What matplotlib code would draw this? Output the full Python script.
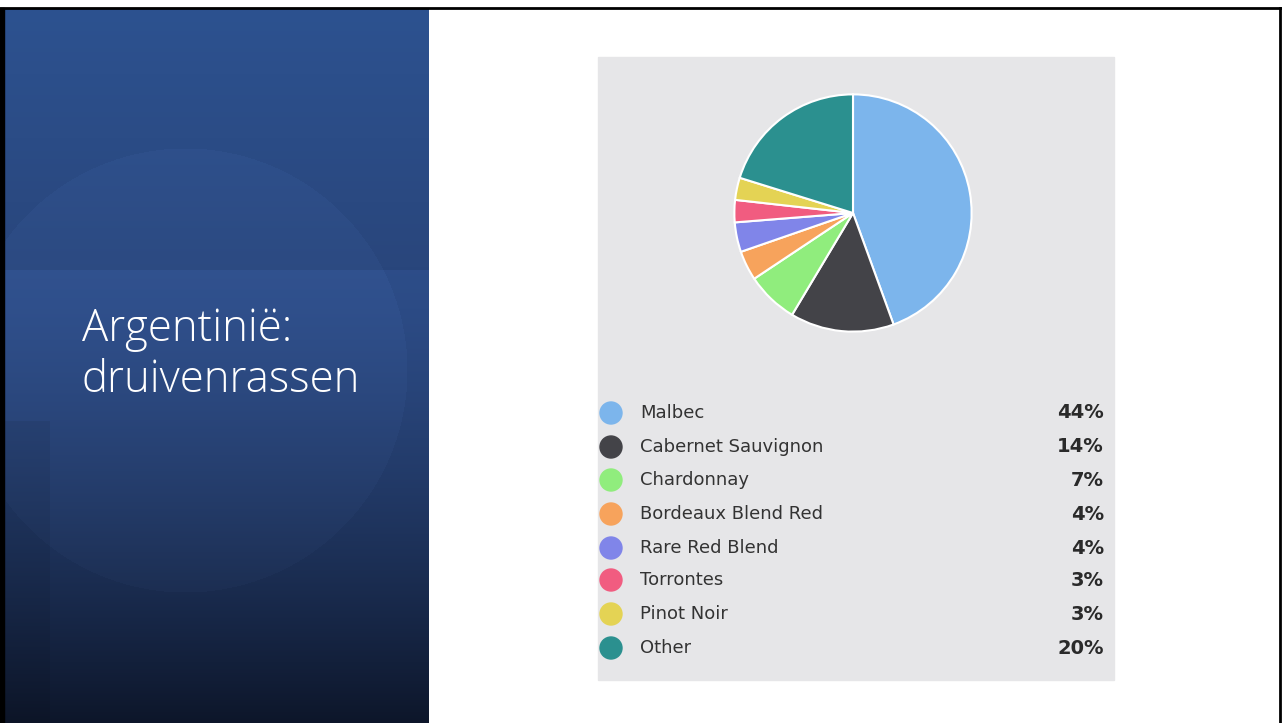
import numpy as np
import matplotlib.pyplot as plt
from matplotlib.patches import Rectangle, Circle

# data
grapes = ["Malbec", "Cabernet Sauvignon", "Chardonnay", "Bordeaux Blend Red",
          "Rare Red Blend", "Torrontes", "Pinot Noir", "Other"]
shares = [44, 14, 7, 4, 4, 3, 3, 20]
colors = ["#7cb5ec", "#434348", "#90ed7d", "#f7a35c",
          "#8085e9", "#f15c80", "#e4d354", "#2b908f"]

W, H = 1282, 723
fig = plt.figure(figsize=(W / 100, H / 100), dpi=100)
fig.patch.set_facecolor("white")

bg = fig.add_axes([0, 0, 1, 1])
bg.set_xlim(0, W)
bg.set_ylim(H, 0)
bg.axis("off")

# left panel: blue gradient with a soft circle and a lighter band
px0, px1, py0 = 4, 429, 9
ph, pw = H - py0, px1 - px0
yy, xx = np.mgrid[0:ph, 0:pw]
t = yy / ph
top = np.array([0x2d, 0x52, 0x90]) / 255
mid = np.array([0x29, 0x46, 0x7c]) / 255
bot = np.array([0x0c, 0x14, 0x26]) / 255
img = np.zeros((ph, pw, 3))
for c in range(3):
    img[..., c] = np.where(t < 0.36, top[c] + (mid[c] - top[c]) * t / 0.36,
                           mid[c] + (bot[c] - mid[c]) * ((t - 0.36) / 0.64) ** 1.4)
band = (yy + py0) >= 270
img[band] *= 1.1
circ = ((xx + px0 - 185) ** 2 + (yy + py0 - 370) ** 2) < 222 ** 2
img[circ] = img[circ] * 1.03 + 0.008
img[(xx + px0 < 50) & (yy + py0 > 420)] *= 0.93
img = np.clip(img, 0, 1)
bg.imshow(img, extent=(px0, px1, H, py0), aspect="auto", zorder=1)

# frame lines
bg.plot([0, W], [8, 8], color="black", lw=2, zorder=3)
bg.plot([W - 2, W - 2], [8, H], color="black", lw=2, zorder=3)
bg.add_patch(Rectangle((0, 8), 4, H - 8, color="black", zorder=3))

for txt, y in [("Argentinië:", 330), ("druivenrassen", 381)]:
    bg.text(82, y, txt, color="white", fontsize=31.5, family=["Open Sans", "DejaVu Sans"],
            fontweight=300, va="center", ha="left", zorder=4)

# grey chart box
bg.add_patch(Rectangle((598, 57), 516, 623, color="#e6e6e8", zorder=1))

# legend
row_y = [413, 447, 480, 514, 548, 580, 614, 648]
for name, val, col, y in zip(grapes, shares, colors, row_y):
    bg.add_patch(Circle((611, y), 11, color=col, zorder=4))
    bg.text(640, y, name, fontsize=13, color="#333333", va="center",
            ha="left", family="DejaVu Sans", zorder=4)
    bg.text(1104, y, f"{val}%", fontsize=14, color="#2a2a2a", va="center",
            ha="right", family="DejaVu Sans", fontweight="bold", zorder=4)

# pie
cx, cy, r = 853, 213, 121
ax = fig.add_axes([(cx - r) / W, (H - cy - r) / H, 2 * r / W, 2 * r / H])
ax.pie(shares, colors=colors, startangle=90, counterclock=False,
       wedgeprops=dict(edgecolor="white", linewidth=1.5))
ax.set_xlim(-1.02, 1.02)
ax.set_ylim(-1.02, 1.02)
ax.set_aspect("equal")
ax.axis("off")

fig.savefig("out.png", dpi=100)
